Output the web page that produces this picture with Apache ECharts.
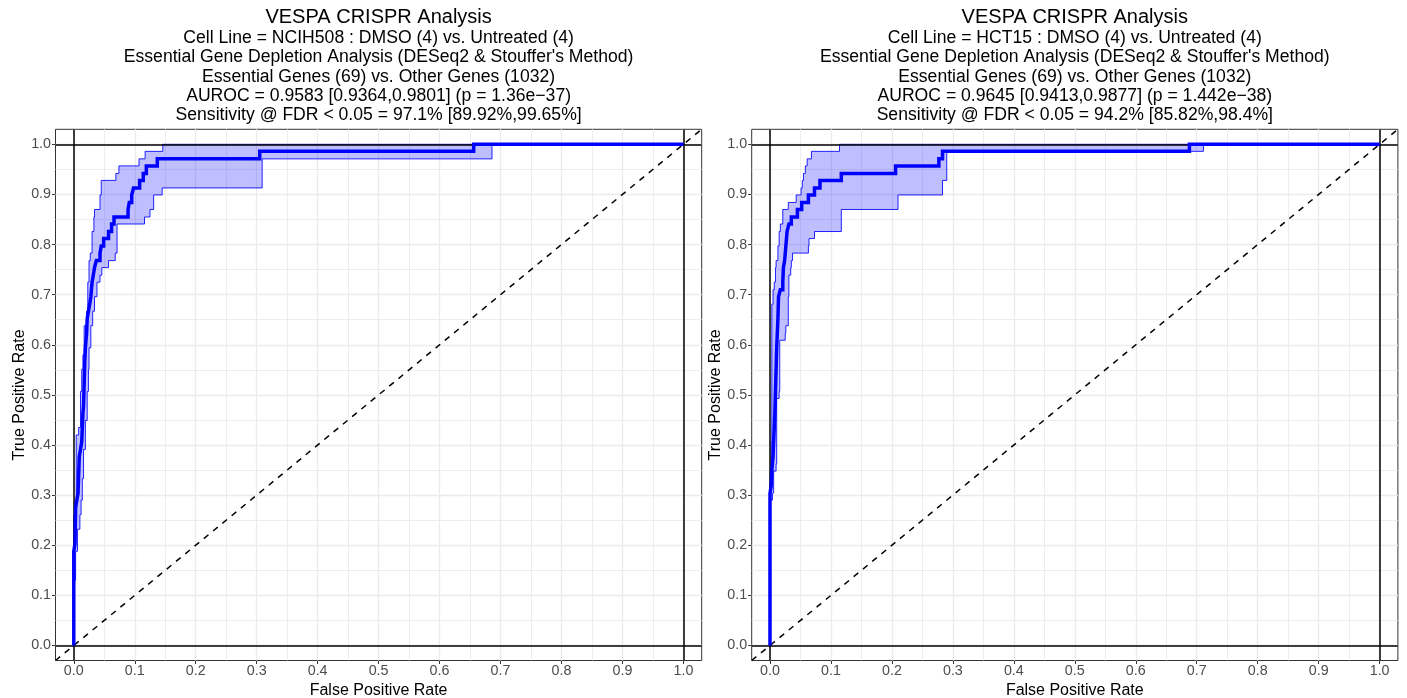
<!DOCTYPE html>
<html>
<head>
<meta charset="utf-8">
<script src="https://cdn.jsdelivr.net/npm/echarts@6/dist/echarts.min.js"></script>
<style>
  html, body { margin: 0; padding: 0; background: #ffffff; overflow: hidden; }
  #chart { width: 1407px; height: 698px; }
</style>
</head>
<body>
<div id="chart"></div>
<script>
// ---- Axis ticks -------------------------------------------------------
const tickValues = [0.0, 0.1, 0.2, 0.3, 0.4, 0.5, 0.6, 0.7, 0.8, 0.9, 1.0];
const minorGridValues = [0.05, 0.15, 0.25, 0.35, 0.45, 0.55, 0.65, 0.75, 0.85, 0.95];

// ---- NCIH508 ROC curve (step vertices: FPR, TPR) ------------------------
const ncih508Fpr = [0, 0, 0.002, 0.003, 0.005, 0.007, 0.009, 0.011, 0.013, 0.015, 0.016, 0.018, 0.019, 0.021, 0.022, 0.024, 0.026, 0.028, 0.030, 0.032, 0.034, 0.037, 0.043, 0.045, 0.049, 0.057, 0.062, 0.066, 0.089, 0.091, 0.095, 0.098, 0.108, 0.114, 0.119, 0.137, 0.305, 0.656, 1.0];
const ncih508Tpr = [0, 0.188, 0.203, 0.275, 0.290, 0.304, 0.377, 0.391, 0.406, 0.464, 0.478, 0.565, 0.594, 0.623, 0.652, 0.667, 0.681, 0.696, 0.725, 0.739, 0.754, 0.768, 0.783, 0.797, 0.812, 0.826, 0.841, 0.855, 0.870, 0.884, 0.899, 0.913, 0.928, 0.942, 0.957, 0.971, 0.986, 1.0, 1.0];
const ncih508UpperFpr = [0, 0, 0.002, 0.004, 0.008, 0.011, 0.013, 0.015, 0.017, 0.021, 0.023, 0.025, 0.027, 0.030, 0.033, 0.034, 0.043, 0.045, 0.069, 0.074, 0.107, 0.117, 0.146, 1.0];
const ncih508UpperTpr = [0, 0.261, 0.290, 0.420, 0.435, 0.507, 0.551, 0.580, 0.638, 0.667, 0.725, 0.768, 0.783, 0.826, 0.855, 0.870, 0.899, 0.928, 0.942, 0.957, 0.971, 0.986, 1.0, 1.0];
const ncih508LowerFpr = [0, 0, 0.003, 0.006, 0.010, 0.012, 0.014, 0.016, 0.019, 0.022, 0.024, 0.025, 0.028, 0.031, 0.034, 0.038, 0.043, 0.046, 0.057, 0.068, 0.071, 0.116, 0.125, 0.131, 0.145, 0.309, 0.686, 1.0];
const ncih508LowerTpr = [0, 0.130, 0.188, 0.232, 0.261, 0.290, 0.333, 0.391, 0.449, 0.507, 0.551, 0.594, 0.638, 0.667, 0.696, 0.725, 0.739, 0.754, 0.768, 0.783, 0.841, 0.855, 0.870, 0.899, 0.913, 0.971, 1.0, 1.0];

// ---- HCT15 ROC curve (step vertices: FPR, TPR) --------------------------
const hct15Fpr = [0, 0, 0.002, 0.003, 0.005, 0.006, 0.008, 0.009, 0.010, 0.011, 0.012, 0.013, 0.014, 0.017, 0.021, 0.022, 0.024, 0.026, 0.028, 0.031, 0.035, 0.045, 0.052, 0.063, 0.073, 0.082, 0.117, 0.206, 0.277, 0.283, 0.688, 1.0];
const hct15Tpr = [0, 0.304, 0.319, 0.348, 0.377, 0.406, 0.464, 0.507, 0.551, 0.594, 0.623, 0.652, 0.696, 0.710, 0.725, 0.754, 0.768, 0.797, 0.826, 0.841, 0.855, 0.870, 0.884, 0.899, 0.913, 0.928, 0.942, 0.957, 0.971, 0.986, 1.0, 1.0];
const hct15UpperFpr = [0, 0, 0.002, 0.003, 0.005, 0.007, 0.009, 0.010, 0.013, 0.015, 0.017, 0.021, 0.030, 0.043, 0.051, 0.053, 0.055, 0.058, 0.061, 0.068, 0.114, 1.0];
const hct15UpperTpr = [0, 0.319, 0.406, 0.681, 0.710, 0.725, 0.754, 0.768, 0.797, 0.826, 0.841, 0.870, 0.884, 0.899, 0.913, 0.928, 0.942, 0.957, 0.971, 0.986, 1.0, 1.0];
const hct15LowerFpr = [0, 0, 0.004, 0.006, 0.010, 0.011, 0.015, 0.016, 0.025, 0.026, 0.030, 0.031, 0.034, 0.035, 0.037, 0.063, 0.064, 0.073, 0.117, 0.210, 0.283, 0.290, 0.711, 1.0];
const hct15LowerTpr = [0, 0.290, 0.304, 0.348, 0.362, 0.493, 0.507, 0.609, 0.623, 0.638, 0.696, 0.739, 0.754, 0.768, 0.783, 0.797, 0.812, 0.826, 0.870, 0.899, 0.928, 0.986, 1.0, 1.0];

// ---- Panel headings ------------------------------------------------------
const ncih508Title = [
  'VESPA CRISPR Analysis',
  'Cell Line = NCIH508 : DMSO (4) vs. Untreated (4)',
  "Essential Gene Depletion Analysis (DESeq2 & Stouffer's Method)",
  'Essential Genes (69) vs. Other Genes (1032)',
  'AUROC = 0.9583 [0.9364,0.9801] (p = 1.36e\u221237)',
  'Sensitivity @ FDR < 0.05 = 97.1% [89.92%,99.65%]'
];
const hct15Title = [
  'VESPA CRISPR Analysis',
  'Cell Line = HCT15 : DMSO (4) vs. Untreated (4)',
  "Essential Gene Depletion Analysis (DESeq2 & Stouffer's Method)",
  'Essential Genes (69) vs. Other Genes (1032)',
  'AUROC = 0.9645 [0.9413,0.9877] (p = 1.442e\u221238)',
  'Sensitivity @ FDR < 0.05 = 94.2% [85.82%,98.4%]'
];

// ---- Layout / style ------------------------------------------------------
const FONT = '"Liberation Sans", Arial, Helvetica, sans-serif';
const AXIS_MIN = -0.03, AXIS_MAX = 1.03;
const PANEL_TOP = 129.3, PANEL_W = 646.2, PANEL_H = 531.2;
const PANEL_LEFTS = [55.5, 751.7];
const TITLE_Y = [17.2, 37.8, 57.2, 76.7, 96.1, 115.2];

// Turn step vertices into an explicit staircase (right, then up).
function stairs(xs, ys) {
  const pts = [];
  for (let i = 0; i < xs.length; i++) {
    if (i > 0) pts.push([xs[i], ys[i - 1]]);
    pts.push([xs[i], ys[i]]);
  }
  return pts;
}

function makeAxes(i) {
  const label = {
    customValues: tickValues,
    formatter: v => v.toFixed(1),
    fontSize: 14.3, lineHeight: 14, color: '#4D4D4D', fontFamily: FONT
  };
  const tick = { show: true, customValues: tickValues, length: 3.5, lineStyle: { color: '#333333', width: 1 } };
  const nameStyle = { fontSize: 16, lineHeight: 16, color: '#000', fontFamily: FONT };
  return {
    x: {
      type: 'value', gridIndex: i, min: AXIS_MIN, max: AXIS_MAX,
      axisLine: { show: false, onZero: false },
      axisTick: tick, axisLabel: Object.assign({ margin: 3.5 }, label),
      splitLine: { show: false },
      name: 'False Positive Rate', nameLocation: 'middle', nameGap: 17, nameTextStyle: nameStyle
    },
    y: {
      type: 'value', gridIndex: i, min: AXIS_MIN, max: AXIS_MAX,
      axisLine: { show: false, onZero: false },
      axisTick: tick, axisLabel: Object.assign({ margin: 4.5 }, label),
      splitLine: { show: false },
      name: 'True Positive Rate', nameLocation: 'middle', nameGap: 25, nameTextStyle: nameStyle
    }
  };
}

function makeSeries(i, fpr, tpr, upFpr, upTpr, loFpr, loTpr) {
  const curve = stairs(fpr, tpr);
  const band = stairs(upFpr, upTpr).concat(stairs(loFpr, loTpr).reverse());

  // panel grid: major at ticks, minor halfway between
  const gridLines = [];
  tickValues.forEach(v => {
    gridLines.push({ xAxis: v, lineStyle: { width: 1.3 } });
    gridLines.push({ yAxis: v, lineStyle: { width: 1.3 } });
  });
  minorGridValues.forEach(v => {
    gridLines.push({ xAxis: v, lineStyle: { width: 0.9 } });
    gridLines.push({ yAxis: v, lineStyle: { width: 0.9 } });
  });

  const refStyle = { color: '#000000', width: 1.5, type: 'solid' };
  const diagStyle = { color: '#000000', width: 1.5, type: [6, 6] };

  return [
    {
      type: 'custom', xAxisIndex: i, yAxisIndex: i, z: 2, silent: true,
      data: band,
      renderItem: (params, api) => {
        if (params.dataIndex !== 0) return { type: 'group', children: [] };
        return {
          type: 'polygon',
          shape: { points: band.map(p => api.coord(p)) },
          style: { fill: 'rgba(0,0,255,0.25)', stroke: 'rgba(0,0,255,0.85)', lineWidth: 1 }
        };
      },
      markLine: {
        z: 3, silent: true, symbol: ['none', 'none'], label: { show: false },
        lineStyle: refStyle, animation: false,
        data: [
          { xAxis: 0 }, { xAxis: 1 }, { yAxis: 0 }, { yAxis: 1 },
          [{ coord: [AXIS_MIN, AXIS_MIN], lineStyle: diagStyle }, { coord: [AXIS_MAX, AXIS_MAX], lineStyle: diagStyle }]
        ]
      }
    },
    {
      type: 'line', xAxisIndex: i, yAxisIndex: i, z: 4, silent: true,
      data: curve, showSymbol: false, symbol: 'none',
      lineStyle: { color: '#0000FF', width: 3.5, join: 'miter' },
      markLine: {
        z: 1, silent: true, symbol: ['none', 'none'], label: { show: false },
        lineStyle: { color: '#EBEBEB', type: 'solid' }, animation: false,
        data: gridLines
      }
    }
  ];
}

function makeHeading(cx, lines) {
  return lines.map((t, k) => ({
    type: 'text', x: cx, y: TITLE_Y[k], silent: true,
    style: {
      text: t, fill: '#000',
      fontSize: k === 0 ? 20 : 17.6, fontFamily: FONT,
      align: 'center', verticalAlign: 'middle',
      textAlign: 'center', textVerticalAlign: 'middle'
    }
  }));
}

const axes0 = makeAxes(0), axes1 = makeAxes(1);
const chart = echarts.init(document.getElementById('chart'), null, { renderer: 'canvas' });
chart.setOption({
  animation: false,
  backgroundColor: '#ffffff',
  grid: PANEL_LEFTS.map(l => ({
    left: l, top: PANEL_TOP, width: PANEL_W, height: PANEL_H,
    outerBoundsMode: 'none', containLabel: false,
    show: true, borderColor: '#333333', borderWidth: 1, backgroundColor: '#ffffff'
  })),
  xAxis: [axes0.x, axes1.x],
  yAxis: [axes0.y, axes1.y],
  series: [].concat(
    makeSeries(0, ncih508Fpr, ncih508Tpr, ncih508UpperFpr, ncih508UpperTpr, ncih508LowerFpr, ncih508LowerTpr),
    makeSeries(1, hct15Fpr, hct15Tpr, hct15UpperFpr, hct15UpperTpr, hct15LowerFpr, hct15LowerTpr)
  ),
  graphic: { elements: [].concat(
    makeHeading(PANEL_LEFTS[0] + PANEL_W / 2, ncih508Title),
    makeHeading(PANEL_LEFTS[1] + PANEL_W / 2, hct15Title)
  ) }
});
</script>
</body>
</html>
